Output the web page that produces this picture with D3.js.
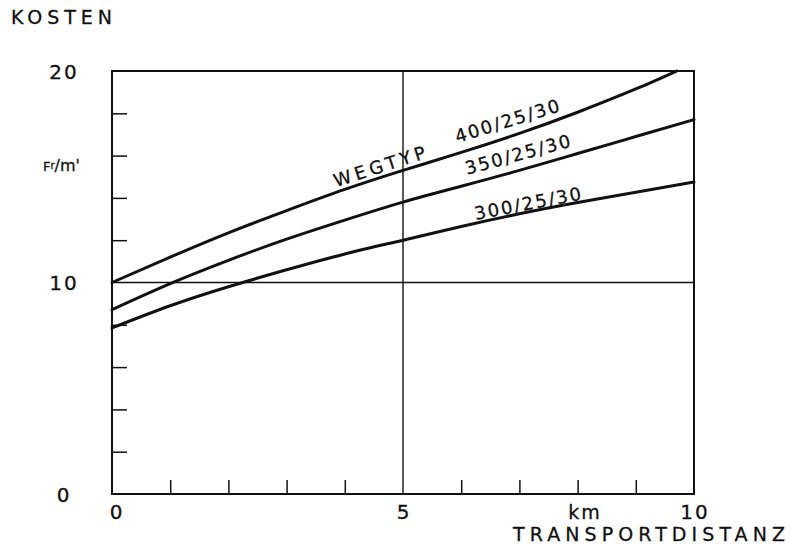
<!DOCTYPE html>
<html><head><meta charset="utf-8">
<script src="https://cdn.jsdelivr.net/npm/d3@7"></script>
<style>
html,body{margin:0;padding:0;background:#fff;}
svg{display:block;}
text{font-family:"DejaVu Sans",sans-serif;fill:#111;stroke:#111;stroke-width:0.3;}
</style></head>
<body>
<svg id="c" width="790" height="547"></svg>
<script>
// ---- data ----
const distanceKm = [0, 1, 2, 3, 4, 5, 6, 7, 8, 9, 9.7];
const weg400 = [10.0, 11.2, 12.35, 13.4, 14.4, 15.3, 16.15, 17.05, 18.05, 19.15, 20.0];
const distanceKm2 = [0, 1, 2, 3, 4, 5, 6, 7, 8, 9, 10];
const weg350 = [8.72, 9.95, 11.05, 12.05, 12.95, 13.8, 14.55, 15.3, 16.1, 16.9, 17.7];
const weg300 = [7.85, 8.9, 9.8, 10.6, 11.35, 12.0, 12.65, 13.25, 13.78, 14.27, 14.75];
const xMinorTicks = [1, 2, 3, 4, 6, 7, 8, 9];
const yMinorTicks = [2, 4, 6, 8, 12, 14, 16, 18];
const xTickLabels = [{v:0, t:"0"}, {v:5, t:"5"}, {v:10, t:"10"}];
const yTickLabels = [{v:0, t:"0"}, {v:10, t:"10"}, {v:20, t:"20"}];
const curveLabels = [
  {t:"WEGTYP", x:3.85, y:14.5, a:-18, ls:4},
  {t:"400/25/30", x:5.93, y:16.6, a:-17, ls:2},
  {t:"350/25/30", x:6.1, y:15.1, a:-15, ls:2},
  {t:"300/25/30", x:6.25, y:12.95, a:-11, ls:2}
];

// ---- layout ----
const L = 112, R = 694, T = 71, B = 494;
const svg = d3.select("#c");
const x = d3.scaleLinear().domain([0, 10]).range([L, R]);
const y = d3.scaleLinear().domain([0, 20]).range([B, T]);

// grid lines at 10 and 5
svg.append("line").attr("x1", x(0)).attr("x2", x(10)).attr("y1", y(10)).attr("y2", y(10))
  .attr("stroke", "#111").attr("stroke-width", 1.4);
svg.append("line").attr("x1", x(5)).attr("x2", x(5)).attr("y1", y(0)).attr("y2", y(20))
  .attr("stroke", "#111").attr("stroke-width", 1.4);

// minor ticks (inward)
const gx = svg.append("g").attr("transform", `translate(0,${B})`)
  .call(d3.axisBottom(x).tickValues(xMinorTicks).tickSize(-14).tickFormat(""));
gx.select(".domain").remove();
gx.selectAll("line").attr("stroke", "#111").attr("stroke-width", 1.5);
const gy = svg.append("g").attr("transform", `translate(${L},0)`)
  .call(d3.axisLeft(y).tickValues(yMinorTicks).tickSize(-15).tickFormat(""));
gy.select(".domain").remove();
gy.selectAll("line").attr("stroke", "#111").attr("stroke-width", 1.5);

// frame
svg.append("rect").attr("x", L).attr("y", T).attr("width", R - L).attr("height", B - T)
  .attr("fill", "none").attr("stroke", "#111").attr("stroke-width", 2);

// curves
const line = d3.line().x(d => x(d[0])).y(d => y(d[1])).curve(d3.curveNatural);
const series = [
  d3.zip(distanceKm, weg400),
  d3.zip(distanceKm2, weg350),
  d3.zip(distanceKm2, weg300)
];
svg.selectAll("path.curve").data(series).join("path")
  .attr("class", "curve").attr("d", line)
  .attr("fill", "none").attr("stroke", "#111").attr("stroke-width", 3)
  .attr("stroke-linecap", "round");

// tick labels
svg.selectAll("text.xl").data(xTickLabels).join("text").attr("class", "xl")
  .attr("x", d => x(d.v) + (d.v === 0 ? 5 : 1)).attr("y", 519)
  .attr("text-anchor", "middle").attr("font-size", 20).attr("letter-spacing", 2)
  .text(d => d.t);
svg.selectAll("text.yl").data(yTickLabels).join("text").attr("class", "yl")
  .attr("x", 64).attr("y", d => y(d.v) + 7.5)
  .attr("text-anchor", "middle").attr("font-size", 20).attr("letter-spacing", 2)
  .text(d => d.t);

// axis titles
svg.append("text").attr("x", 11).attr("y", 24).attr("font-size", 19)
  .attr("textLength", 101).text("KOSTEN");
svg.append("text").attr("x", 585).attr("y", 519).attr("text-anchor", "middle")
  .attr("font-size", 19).attr("letter-spacing", 2).text("km");
svg.append("text").attr("x", 513).attr("y", 541).attr("font-size", 19)
  .attr("textLength", 272).text("TRANSPORTDISTANZ");
const unit = svg.append("text").attr("x", 43).attr("y", 171).attr("font-size", 13);
unit.append("tspan").text("F");
unit.append("tspan").attr("font-size", 10).attr("dy", -2).text("r");
unit.append("tspan").attr("dy", 2).attr("font-size", 16).text("/m'");

// curve labels
svg.selectAll("text.cl").data(curveLabels).join("text").attr("class", "cl")
  .attr("transform", d => `translate(${x(d.x)},${y(d.y)}) rotate(${d.a})`)
  .attr("font-size", 18).attr("letter-spacing", d => d.ls)
  .text(d => d.t);
</script>
</body></html>
